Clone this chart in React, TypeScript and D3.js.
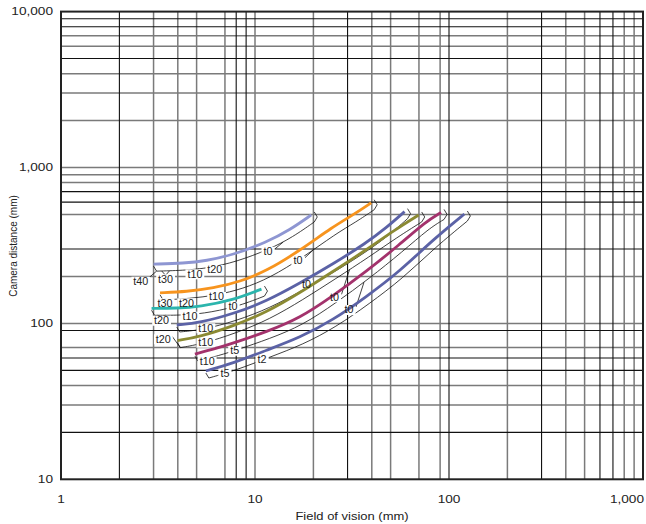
import React from 'react';
import * as d3 from 'd3';

// ---- axis ticks ----
const xTickValues = [1, 10, 100, 1000];
const xTickLabels = ['1', '10', '100', '1,000'];
const yTickValues = [10, 100, 1000, 10000];
const yTickLabels = ['10', '100', '1,000', '10,000'];

// ---- grid lines (values) ----
const xGridBlack = [2, 8, 9, 30, 100, 300, 600, 700];
const xGridGray = [3, 4, 5, 7, 10, 20, 40, 50, 70, 90, 200, 400, 500, 800, 900];
const yGridBlack = [9000, 8000, 5000, 700, 600, 300, 90, 60, 50, 20];
const yGridGray = [7000, 6000, 4000, 3000, 2000, 1000, 900, 800, 500, 200, 100, 70, 40, 30];

// ---- series: [field of vision (mm), camera distance (mm)] ----
const lavenderPts = [[3.0, 240], [4.3, 243], [5.6, 252], [7.7, 275], [11.5, 332], [15.1, 397], [19.5, 496]];
const orangePts = [[3.24, 157], [4.44, 160], [6.1, 168], [8.35, 185], [11.5, 217], [17, 293], [25.2, 417], [32, 496], [39.7, 594]];
const tealPts = [[2.93, 125], [3.95, 125], [5.2, 128], [7.7, 141], [10.8, 166]];
const slate1Pts = [[3.95, 97.7], [5.2, 101], [7.7, 115], [11.5, 139], [17, 181], [25.2, 240], [37.4, 328], [47.5, 410], [59, 521]];
const olivePts = [[3.98, 77.5], [5.2, 82.2], [7.7, 96], [11.5, 118], [17, 157], [25.2, 215], [37.4, 296], [52.4, 397], [69.8, 496]];
const magentaPts = [[4.9, 63.6], [6.34, 69.2], [7.7, 74.6], [11.5, 88.5], [17, 108], [25.2, 150], [37.4, 215], [55.6, 320], [76, 450], [91, 515]];
const slate2Pts = [[5.58, 49.5], [7.7, 55.5], [11.5, 67.4], [17, 81], [25.2, 105], [37.4, 148], [55.6, 215], [82.4, 343], [120, 503]];

// ---- tube tags: [label, field, distance] ----
const lavenderTags: [string, number, number][] = [['t40', 2.58, 185], ['t30', 3.46, 191.8], ['t10', 4.9, 206.5], ['t20', 6.21, 220], ['t0', 11.68, 288]];
const orangeTags: [string, number, number][] = [['t30', 3.44, 134.6], ['t20', 4.44, 134.6], ['t10', 6.34, 147.7], ['t0', 16.66, 252.6]];
const tealTags: [string, number, number][] = [['t20', 3.3, 104], ['t10', 4.62, 110.4], ['t0', 7.71, 128]];
const slate1Tags: [string, number, number][] = [['t10', 5.58, 93], ['t0', 18.4, 176]];
const oliveTags: [string, number, number][] = [['t20', 3.37, 79.1], ['t10', 5.58, 75.2], ['t0', 25.7, 147]];
const magentaTags: [string, number, number][] = [['t10', 5.67, 56.8], ['t5', 7.87, 66.8], ['t0', 30.5, 121.9]];
const slate2Tags: [string, number, number][] = [['t5', 7.0, 47.4], ['t2', 10.88, 58.8]];

const series = [
  { color: '#8e96d2', pts: lavenderPts, tags: lavenderTags },
  { color: '#f7941e', pts: orangePts, tags: orangeTags },
  { color: '#2bb5ad', pts: tealPts, tags: tealTags },
  { color: '#5b62a6', pts: slate1Pts, tags: slate1Tags },
  { color: '#8b8a33', pts: olivePts, tags: oliveTags },
  { color: '#a3326c', pts: magentaPts, tags: magentaTags },
  { color: '#5b62a6', pts: slate2Pts, tags: slate2Tags },
];

const FONT = '"Liberation Sans", Arial, Helvetica, sans-serif';

export default function App() {
  const W = 646, H = 524;
  const L = 61, R = 643, T = 11.6, B = 479.3;
  const x = d3.scaleLog().domain([1, 1000]).range([L, R]);
  const y = d3.scaleLog().domain([10, 10000]).range([B, T]);
  const OX = 3, OY = 7;

  const line = d3.line<number[]>().x(d => x(d[0])).y(d => y(d[1])).curve(d3.curveBasis);
  const offLine = d3.line<number[]>().x(d => x(d[0]) + OX).y(d => y(d[1]) + OY).curve(d3.curveBasis);

  const yAt = (pts: number[][], px: number) => {
    const p = pts.map(d => [x(d[0]) + OX, y(d[1]) + OY]);
    if (px <= p[0][0]) return p[0][1];
    for (let i = 1; i < p.length; i++) {
      if (px <= p[i][0]) {
        const t = (px - p[i - 1][0]) / (p[i][0] - p[i - 1][0]);
        return p[i - 1][1] + t * (p[i][1] - p[i - 1][1]);
      }
    }
    return p[p.length - 1][1];
  };

  const tagW = (s: string) => s.length * 5.6 + 2;

  return (
    <svg width={W} height={H} style={{ position: 'absolute', left: 0, top: 0, background: '#fff' }} fontFamily={FONT}>
      <rect x={0} y={0} width={W} height={H} fill="#fff" />
      {/* grid */}
      {xGridGray.map(v => <line key={'xg' + v} x1={x(v)} x2={x(v)} y1={T} y2={B} stroke="#7a7a7a" strokeWidth={1.5} />)}
      {yGridGray.map(v => <line key={'yg' + v} x1={L} x2={R} y1={y(v)} y2={y(v)} stroke="#7a7a7a" strokeWidth={1.5} />)}
      {xGridBlack.map(v => <line key={'xb' + v} x1={x(v)} x2={x(v)} y1={T} y2={B} stroke="#111" strokeWidth={1.1} />)}
      {yGridBlack.map(v => <line key={'yb' + v} x1={L} x2={R} y1={y(v)} y2={y(v)} stroke="#111" strokeWidth={1.1} />)}

      {/* brackets */}
      {series.map((s, i) => {
        const first = s.pts[0], last = s.pts[s.pts.length - 1];
        const xe = x(last[0]), ye = y(last[1]);
        const xs = x(first[0]), ys = y(first[1]);
        const hook = `M${xe + OX},${ye + OY} L${xe + 6},${ye + 2} L${xe + 3},${ye - 3}`;
        const start = `M${xs + OX},${ys + OY} L${xs},${ys + 2}`;
        return (
          <g key={'br' + i} fill="none" stroke="#111" strokeWidth={0.8}>
            <path d={offLine(s.pts) || ''} />
            <path d={hook} />
            <path d={start} />
            {s.tags.map((t, j) => {
              const tx = x(t[1]), ty = y(t[2]);
              if (tx < xs) {
                return <path key={j} d={`M${tx + 8},${ty - 4} L${xs + OX},${ys + OY}`} />;
              }
              const yb = yAt(s.pts, tx);
              if (t[0] === 't0' || t[0] === 't2') {
                const lx = tx + 7;
                const ly = yAt(s.pts, lx + 8);
                if (Math.abs(ly - ty) < 7) return null;
                return <path key={j} d={`M${lx},${ty - 3} L${lx + 8},${ly}`} />;
              }
              return <path key={j} d={`M${tx - 4},${yb} L${tx},${Math.min(yb + 5, ty - 4)} L${tx + 4},${yAt(s.pts, tx + 4)}`} />;
            })}
          </g>
        );
      })}

      {/* label knockouts */}
      {series.map((s, i) => s.tags.map((t, j) => (
        <rect key={`bg${i}-${j}`} x={x(t[1]) - tagW(t[0]) / 2} y={y(t[2]) - 5} width={tagW(t[0])} height={10} fill="#fff" />
      )))}

      {/* curves */}
      {series.map((s, i) => (
        <path key={'c' + i} d={line(s.pts) || ''} fill="none" stroke={s.color} strokeWidth={2.8} strokeLinecap="butt" />
      ))}

      {/* tag labels */}
      {series.map((s, i) => s.tags.map((t, j) => (
        <text key={`tl${i}-${j}`} transform={`translate(${x(t[1])},${y(t[2])}) scale(1.08,1)`} textAnchor="middle" dominantBaseline="central" fontSize={10} fill="#222">{t[0]}</text>
      )))}

      {/* frame */}
      <rect x={L} y={T} width={R - L} height={B - T} fill="none" stroke="#222" strokeWidth={2} />

      {/* tick labels */}
      {yTickValues.map((v, i) => (
        <text key={'yt' + v} transform={`translate(53,${y(v)}) scale(1.3,1)`} textAnchor="end" dominantBaseline="central" fontSize={10.5} fill="#222">{yTickLabels[i]}</text>
      ))}
      {xTickValues.map((v, i) => (
        <text key={'xt' + v} transform={`translate(${i === 3 ? 644 : x(v)},500) scale(1.3,1)`} textAnchor={i === 3 ? 'end' : 'middle'} dominantBaseline="central" fontSize={10.5} fill="#222">{xTickLabels[i]}</text>
      ))}

      {/* axis titles */}
      <text transform={`translate(352,517) scale(1.3,1)`} textAnchor="middle" dominantBaseline="central" fontSize={10} fill="#222">Field of vision (mm)</text>
      <text transform={`translate(13,246) rotate(-90)`} textAnchor="middle" dominantBaseline="central" fontSize={10} fill="#222">Camera distance (mm)</text>
    </svg>
  );
}
